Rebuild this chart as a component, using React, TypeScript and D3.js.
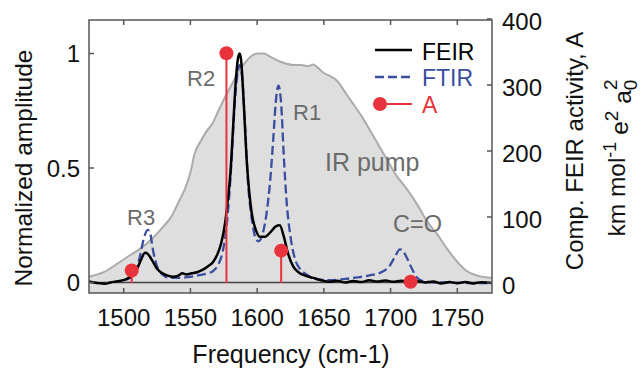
import React from "react";
import * as d3 from "d3";

const W = 643;
const H = 369;

// IR pump spectrum [frequency, normalized amplitude]
const pumpFreq = [1474,1485,1496,1505,1513,1521,1529,1536,1541,1546,1550,1553,1558,1562,1566,1571,1576,1581,1586,1591,1596,1601,1605,1610,1617,1622,1627,1633,1638,1642,1646,1650,1655,1660,1666,1672,1679,1685,1691,1697,1704,1712,1720,1727,1735,1742,1750,1757,1765,1776];
const pumpVal = [0.025,0.045,0.085,0.12,0.15,0.19,0.24,0.29,0.35,0.41,0.48,0.56,0.62,0.66,0.69,0.75,0.81,0.865,0.92,0.96,0.99,1.0,1.0,0.985,0.965,0.955,0.95,0.95,0.945,0.952,0.935,0.915,0.9,0.88,0.83,0.78,0.72,0.66,0.6,0.54,0.47,0.41,0.34,0.27,0.21,0.15,0.09,0.05,0.03,0.02];

// FEIR spectrum
const feirFreq = [1474,1480,1486,1490,1494,1498,1502,1506,1510,1513,1516,1518,1521,1525,1529,1533,1537,1541,1544,1547,1551,1555,1559,1563,1567,1570,1573,1576,1578,1580,1582,1584,1586,1587,1588,1590,1592,1594,1596,1599,1602,1606,1610,1614,1617,1620,1623,1627,1631,1636,1642,1648,1654,1660,1666,1672,1678,1684,1690,1696,1702,1708,1714,1720,1726,1732,1738,1744,1750,1756,1762,1768,1776];
const feirVal = [0.005,-0.002,-0.006,0.0,0.004,0.008,0.015,0.03,0.06,0.1,0.13,0.125,0.1,0.06,0.04,0.03,0.025,0.03,0.04,0.035,0.04,0.045,0.055,0.07,0.09,0.12,0.17,0.26,0.36,0.48,0.68,0.88,0.99,1.0,0.97,0.78,0.55,0.4,0.3,0.23,0.2,0.2,0.22,0.245,0.25,0.2,0.13,0.07,0.045,0.03,0.02,0.01,0.003,0.008,0.0,0.007,0.002,0.01,0.004,0.009,0.003,0.008,0.002,0.006,0.0,0.004,-0.004,0.002,-0.003,0.002,-0.004,0.001,-0.002];

// FTIR spectrum
const ftirFreq = [1500,1505,1509,1512,1515,1518,1520,1522,1525,1529,1534,1540,1546,1552,1558,1563,1567,1571,1574,1577,1579,1581,1583,1585,1587,1589,1591,1593,1595,1597,1599,1601,1604,1607,1610,1612,1614,1616,1618,1620,1622,1625,1628,1632,1637,1645,1655,1665,1675,1685,1693,1699,1703,1707,1709,1712,1716,1720,1725,1735,1745,1760,1776];
const ftirVal = [0.01,0.02,0.05,0.11,0.19,0.23,0.21,0.14,0.07,0.035,0.02,0.02,0.022,0.027,0.033,0.04,0.05,0.08,0.13,0.24,0.37,0.55,0.76,0.9,0.95,0.88,0.68,0.45,0.32,0.24,0.19,0.18,0.21,0.3,0.46,0.62,0.79,0.86,0.78,0.55,0.36,0.2,0.11,0.06,0.035,0.015,0.01,0.015,0.022,0.032,0.045,0.07,0.11,0.145,0.14,0.11,0.06,0.02,0.005,0.0,0.0,-0.003,-0.003];

// Computed FEIR activity A (right axis)
const aFreq = [1506, 1577, 1618, 1715];
const aVal = [19, 348, 49, 2];

const xTicks = [1500, 1550, 1600, 1650, 1700, 1750];
const yLeftTicks = [0, 0.5, 1];
const yLeftLabels = ["0", "0.5", "1"];
const yRightTicks = [0, 100, 200, 300, 400];

const FONT = "'Liberation Sans', Arial, Helvetica, sans-serif";
const AXIS_COLOR = "#555555";
const BLUE = "#3a4d9f";
const RED = "#e8333c";
const ANNOT = "#6b6b6b";

export default function App() {
  const left = 89, right = 492, top = 20, bottom = 293;
  const x = d3.scaleLinear().domain([1474, 1776]).range([left, right]);
  const y = d3.scaleLinear().domain([0, 1]).range([282.5, 53.5]);
  const yR = d3.scaleLinear().domain([0, 400]).range([283, 19]);

  const line = d3
    .line<[number, number]>()
    .x((d) => x(d[0]))
    .y((d) => y(d[1]))
    .curve(d3.curveMonotoneX);

  const pump: [number, number][] = pumpFreq.map((f, i) => [f, pumpVal[i]]);
  const feir: [number, number][] = feirFreq.map((f, i) => [f, feirVal[i]]);
  const ftir: [number, number][] = ftirFreq.map((f, i) => [f, ftirVal[i]]);

  const pumpArea = d3
    .area<[number, number]>()
    .x((d) => x(d[0]))
    .y0(bottom)
    .y1((d) => y(d[1]))
    .curve(d3.curveMonotoneX);

  const tickLen = 5;

  return (
    <svg
      width={W}
      height={H}
      style={{ position: "absolute", left: 0, top: 0, background: "#fff" }}
      fontFamily={FONT}
    >
      <defs>
        <clipPath id="plotclip">
          <rect x={left} y={top} width={right - left} height={bottom - top} />
        </clipPath>
      </defs>
      <g clipPath="url(#plotclip)">
        <path d={pumpArea(pump) || ""} fill="#dedede" stroke="none" />
        <path d={line(pump) || ""} fill="none" stroke="#ababab" strokeWidth={2} />
        <line x1={left} x2={right} y1={y(0)} y2={y(0)} stroke="#444" strokeWidth={1.5} />
        <path d={line(ftir) || ""} fill="none" stroke={BLUE} strokeWidth={2.3} strokeDasharray="9,4" />
        <path d={line(feir) || ""} fill="none" stroke="#000" strokeWidth={2.5} />
        {aFreq.map((f, i) => (
          <g key={f}>
            <line x1={x(f)} x2={x(f)} y1={yR(0)} y2={yR(aVal[i])} stroke={RED} strokeWidth={2} />
            <circle cx={x(f)} cy={yR(aVal[i])} r={7} fill={RED} />
          </g>
        ))}
      </g>

      {/* frame */}
      <rect x={left} y={top} width={right - left} height={bottom - top} fill="none" stroke={AXIS_COLOR} strokeWidth={1.5} />

      {/* x ticks */}
      {xTicks.map((t) => (
        <g key={t}>
          <line x1={x(t)} x2={x(t)} y1={bottom} y2={bottom - tickLen} stroke={AXIS_COLOR} strokeWidth={1.5} />
          <line x1={x(t)} x2={x(t)} y1={top} y2={top + tickLen} stroke={AXIS_COLOR} strokeWidth={1.5} />
          <text x={x(t)} y={326} textAnchor="middle" fontSize={24} fill="#111">
            {t}
          </text>
        </g>
      ))}

      {/* left y ticks */}
      {yLeftTicks.map((t, i) => (
        <g key={t}>
          <line x1={left} x2={left + tickLen} y1={y(t)} y2={y(t)} stroke={AXIS_COLOR} strokeWidth={1.5} />
          <text x={80} y={y(t)} dy="0.36em" textAnchor="end" fontSize={24} fill="#111">
            {yLeftLabels[i]}
          </text>
        </g>
      ))}

      {/* right y ticks */}
      {yRightTicks.map((t) => (
        <g key={t}>
          <line x1={right} x2={right - tickLen} y1={yR(t)} y2={yR(t)} stroke={AXIS_COLOR} strokeWidth={1.5} />
          <text x={502} y={yR(t) + 2} dy="0.36em" textAnchor="start" fontSize={24} fill="#111">
            {t}
          </text>
        </g>
      ))}

      {/* axis titles */}
      <text x={291} y={363} textAnchor="middle" fontSize={25} fill="#111">
        Frequency (cm-1)
      </text>
      <text
        transform={`translate(23,168) rotate(-90)`}
        textAnchor="middle"
        dy="0.36em"
        fontSize={24.5}
        fill="#111"
      >
        Normalized amplitude
      </text>
      <text
        transform={`translate(574,151) rotate(-90)`}
        textAnchor="middle"
        dy="0.36em"
        fontSize={24}
        fill="#111"
      >
        Comp. FEIR activity, A
      </text>
      <text
        transform={`translate(616,158) rotate(-90)`}
        textAnchor="middle"
        dy="0.36em"
        fontSize={24.5}
        fill="#111"
      >
        <tspan>km mol</tspan>
        <tspan dy="-0.5em" fontSize={18}>-1</tspan>
        <tspan dy="0.5em"> e</tspan>
        <tspan dy="-0.55em" fontSize={19}>2</tspan>
        <tspan dy="0.55em"> a</tspan>
        <tspan dy="0.3em" fontSize={19}>0</tspan>
        <tspan dy="-1.05em" dx="-0.55em" fontSize={19}>2</tspan>
      </text>

      {/* annotations */}
      <text x={187} y={86} fontSize={22} fill={ANNOT}>R2</text>
      <text x={293} y={120} fontSize={22} fill={ANNOT}>R1</text>
      <text x={127} y={225} fontSize={22} fill={ANNOT}>R3</text>
      <text x={325} y={171} fontSize={25} fill={ANNOT}>IR pump</text>
      <text x={393} y={232} fontSize={23.5} fill={ANNOT}>C=O</text>

      {/* legend */}
      <line x1={375} x2={412} y1={50} y2={50} stroke="#000" strokeWidth={2.5} />
      <text x={422} y={52} dy="0.36em" fontSize={23} fill="#000">FEIR</text>
      <line x1={375} x2={412} y1={77} y2={77} stroke={BLUE} strokeWidth={2.3} strokeDasharray="9,4" />
      <text x={422} y={78} dy="0.36em" fontSize={23} fill={BLUE}>FTIR</text>
      <line x1={380} x2={412} y1={104} y2={104} stroke={RED} strokeWidth={2} />
      <circle cx={380} cy={104} r={7} fill={RED} />
      <text x={422} y={105} dy="0.36em" fontSize={23} fill={RED}>A</text>
    </svg>
  );
}
